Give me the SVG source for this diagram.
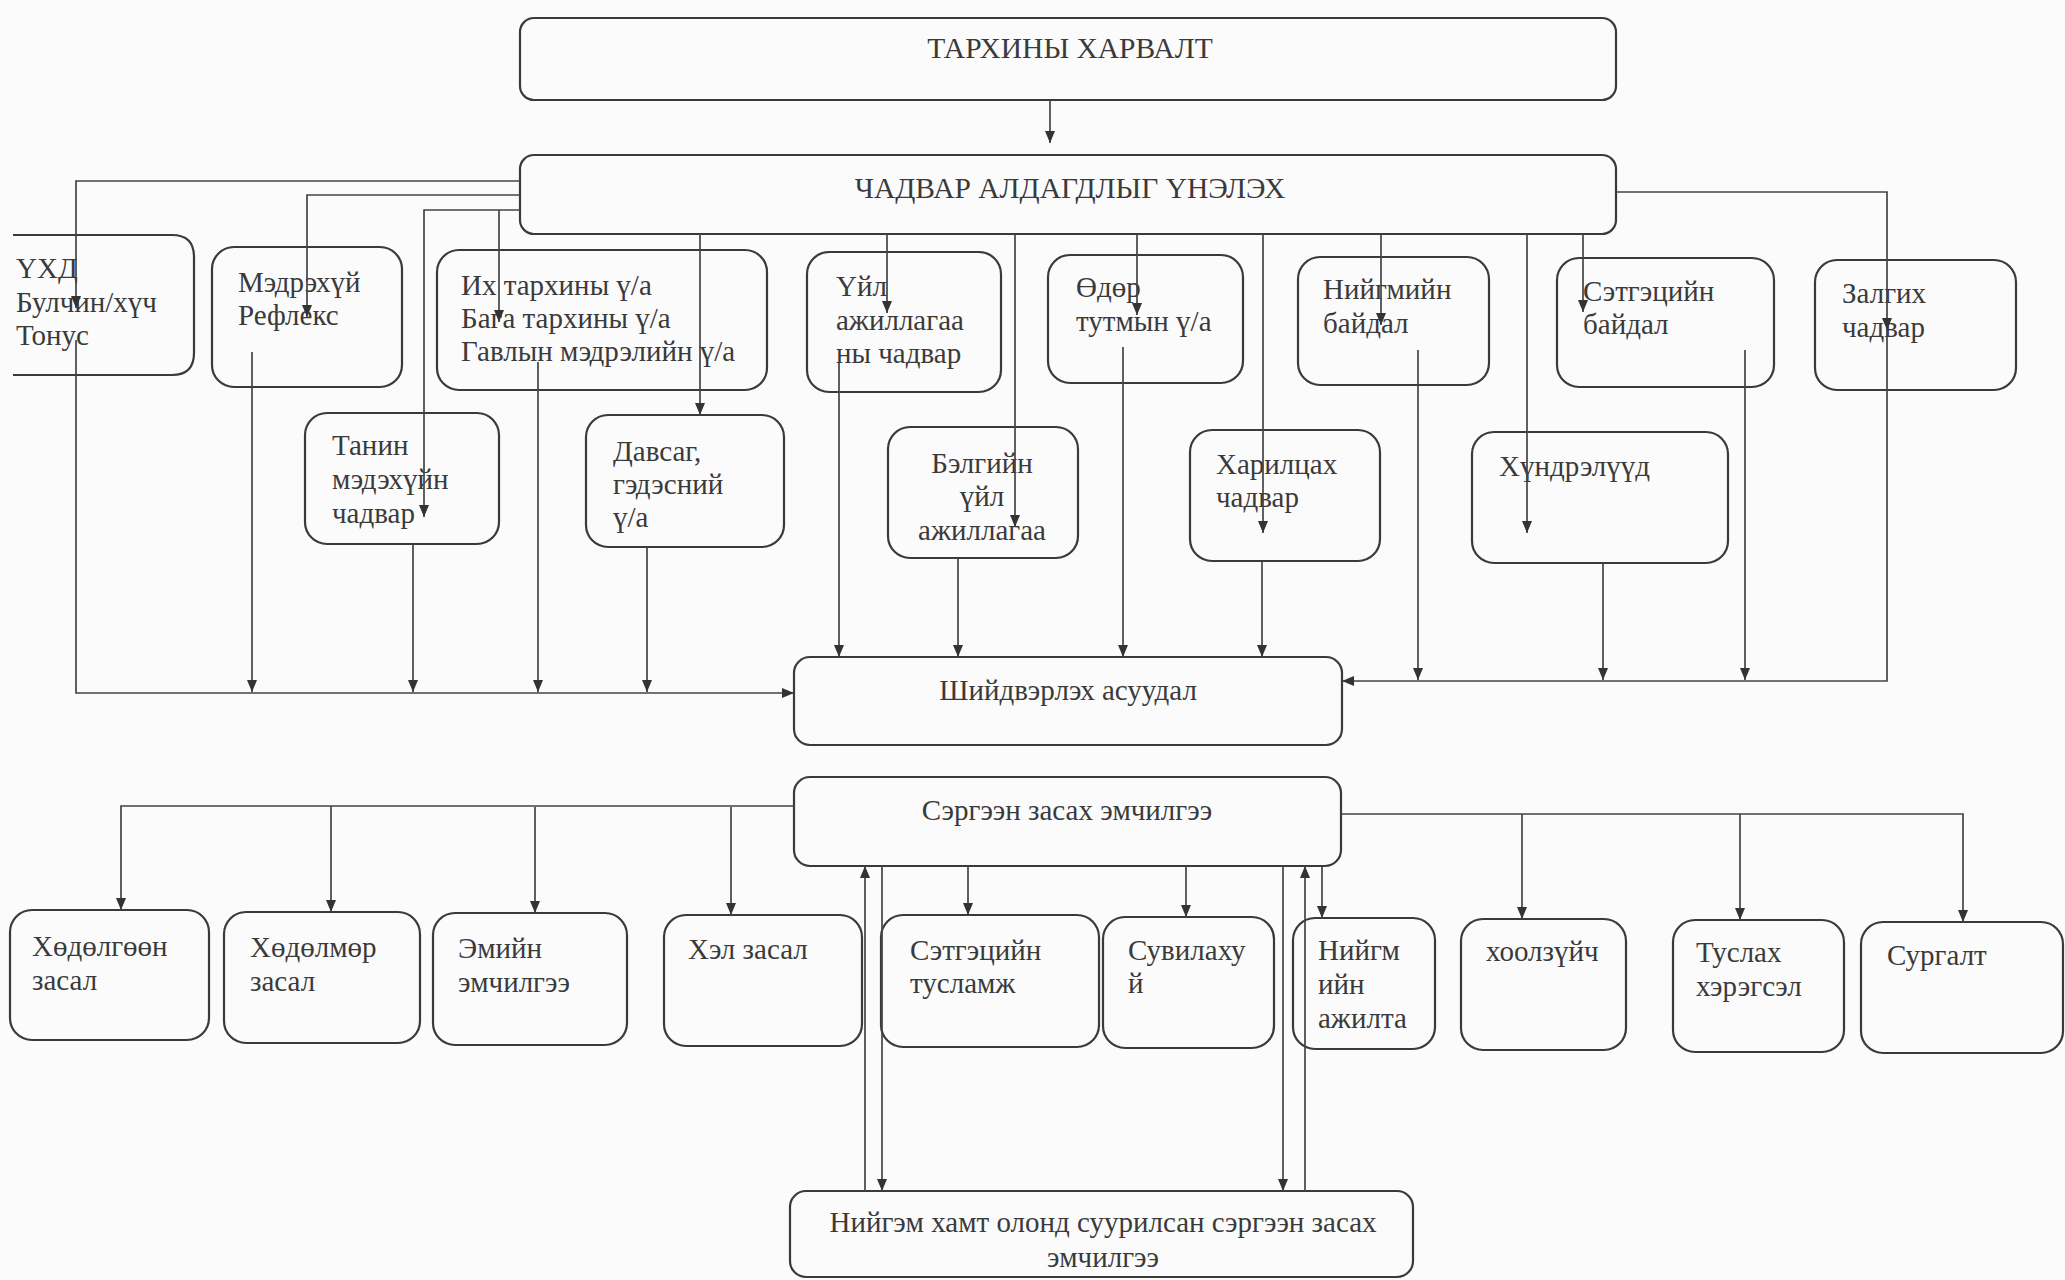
<svg xmlns="http://www.w3.org/2000/svg" width="2065" height="1280" viewBox="0 0 2065 1280">
<style>
.bx{fill:none;stroke:#3a3a3a;stroke-width:2.2}
.t{font-family:"Liberation Serif","Times New Roman",serif;font-size:29px;fill:#3a3a3a}
.tc{font-family:"Liberation Serif","Times New Roman",serif;font-size:29.5px;fill:#3a3a3a;text-anchor:middle}
.mid{text-anchor:middle}
.ln{fill:none;stroke:#444;stroke-width:1.7}
</style>
<defs>
<marker id="ar" viewBox="0 0 12 10" refX="12" refY="5" markerUnits="userSpaceOnUse" markerWidth="12" markerHeight="10" orient="auto">
<path d="M0,0 L12,5 L0,10 z" fill="#333"/>
</marker>
</defs>
<rect x="0" y="0" width="2065" height="1280" fill="#fbfbfc"/>

<g id="n-tarkhi"><rect class="bx" x="520" y="18" width="1096" height="82" rx="14"/><text class="tc" x="1070" y="58">ТАРХИНЫ ХАРВАЛТ</text></g>
<g id="n-chadvar"><rect class="bx" x="520" y="155" width="1096" height="79" rx="14"/><text class="tc" x="1070" y="198">ЧАДВАР АЛДАГДЛЫГ ҮНЭЛЭХ</text></g>

<g id="n-ukhd"><path class="bx" d="M13,235 H172 Q194,235 194,257 V353 Q194,375 172,375 H13"/><text class="t"><tspan x="16" y="278">ҮХД</tspan><tspan x="16" y="312">Булчин/хүч</tspan><tspan x="16" y="345">Тонус</tspan></text></g>
<g id="n-medr"><rect class="bx" x="212" y="247" width="190" height="140" rx="22"/><text class="t"><tspan x="238" y="292">Мэдрэхүй</tspan><tspan x="238" y="325">Рефлекс</tspan></text></g>
<g id="n-ikh"><rect class="bx" x="437" y="250" width="330" height="140" rx="22"/><text class="t"><tspan x="461" y="295">Их тархины ү/а</tspan><tspan x="461" y="328">Бага тархины ү/а</tspan><tspan x="461" y="361">Гавлын мэдрэлийн ү/а</tspan></text></g>
<g id="n-uil"><rect class="bx" x="807" y="252" width="194" height="140" rx="22"/><text class="t"><tspan x="836" y="296">Үйл</tspan><tspan x="836" y="330">ажиллагаа</tspan><tspan x="836" y="363">ны чадвар</tspan></text></g>
<g id="n-odor"><rect class="bx" x="1048" y="255" width="195" height="128" rx="22"/><text class="t"><tspan x="1076" y="297">Өдөр</tspan><tspan x="1076" y="331">тутмын ү/а</tspan></text></g>
<g id="n-niigbai"><rect class="bx" x="1298" y="257" width="191" height="128" rx="22"/><text class="t"><tspan x="1323" y="299">Нийгмийн</tspan><tspan x="1323" y="333">байдал</tspan></text></g>
<g id="n-setgbai"><rect class="bx" x="1557" y="258" width="217" height="129" rx="22"/><text class="t"><tspan x="1583" y="301">Сэтгэцийн</tspan><tspan x="1583" y="334">байдал</tspan></text></g>
<g id="n-zalg"><rect class="bx" x="1815" y="260" width="201" height="130" rx="22"/><text class="t"><tspan x="1842" y="303">Залгих</tspan><tspan x="1842" y="337">чадвар</tspan></text></g>

<g id="n-tanin"><rect class="bx" x="305" y="413" width="194" height="131" rx="22"/><text class="t"><tspan x="332" y="455">Танин</tspan><tspan x="332" y="489">мэдэхүйн</tspan><tspan x="332" y="523">чадвар</tspan></text></g>
<g id="n-davs"><rect class="bx" x="586" y="415" width="198" height="132" rx="22"/><text class="t"><tspan x="613" y="461">Давсаг,</tspan><tspan x="613" y="494">гэдэсний</tspan><tspan x="613" y="527">ү/а</tspan></text></g>
<g id="n-belg"><rect class="bx" x="888" y="427" width="190" height="131" rx="22"/><text class="t mid"><tspan x="982" y="473">Бэлгийн</tspan><tspan x="982" y="506">үйл</tspan><tspan x="982" y="540">ажиллагаа</tspan></text></g>
<g id="n-haril"><rect class="bx" x="1190" y="430" width="190" height="131" rx="22"/><text class="t"><tspan x="1216" y="474">Харилцах</tspan><tspan x="1216" y="507">чадвар</tspan></text></g>
<g id="n-hund"><rect class="bx" x="1472" y="432" width="256" height="131" rx="22"/><text class="t"><tspan x="1499" y="476">Хүндрэлүүд</tspan></text></g>

<g id="n-shiid"><rect class="bx" x="794" y="657" width="548" height="88" rx="16"/><text class="t mid" x="1068" y="700">Шийдвэрлэх асуудал</text></g>
<g id="n-serg"><rect class="bx" x="794" y="777" width="547" height="89" rx="16"/><text class="t mid" x="1067" y="820">Сэргээн засах эмчилгээ</text></g>

<g id="n-hodl"><rect class="bx" x="10" y="910" width="199" height="130" rx="22"/><text class="t"><tspan x="32" y="956">Хөдөлгөөн</tspan><tspan x="32" y="990">засал</tspan></text></g>
<g id="n-hodm"><rect class="bx" x="224" y="912" width="196" height="131" rx="22"/><text class="t"><tspan x="250" y="957">Хөдөлмөр</tspan><tspan x="250" y="991">засал</tspan></text></g>
<g id="n-emiin"><rect class="bx" x="433" y="913" width="194" height="132" rx="22"/><text class="t"><tspan x="458" y="958">Эмийн</tspan><tspan x="458" y="992">эмчилгээ</tspan></text></g>
<g id="n-hel"><rect class="bx" x="664" y="915" width="198" height="131" rx="22"/><text class="t"><tspan x="688" y="959">Хэл засал</tspan></text></g>
<g id="n-setgt"><rect class="bx" x="881" y="915" width="218" height="132" rx="22"/><text class="t"><tspan x="910" y="960">Сэтгэцийн</tspan><tspan x="910" y="993">тусламж</tspan></text></g>
<g id="n-suv"><rect class="bx" x="1103" y="917" width="171" height="131" rx="22"/><text class="t"><tspan x="1128" y="960">Сувилаху</tspan><tspan x="1128" y="993">й</tspan></text></g>
<g id="n-niigm"><rect class="bx" x="1293" y="918" width="142" height="131" rx="22"/><text class="t"><tspan x="1318" y="960">Нийгм</tspan><tspan x="1318" y="994">ийн</tspan><tspan x="1318" y="1028">ажилта</tspan></text></g>
<g id="n-hool"><rect class="bx" x="1461" y="919" width="165" height="131" rx="22"/><text class="t"><tspan x="1486" y="961">хоолзүйч</tspan></text></g>
<g id="n-tusl"><rect class="bx" x="1673" y="920" width="171" height="132" rx="22"/><text class="t"><tspan x="1696" y="962">Туслах</tspan><tspan x="1696" y="996">хэрэгсэл</tspan></text></g>
<g id="n-surg"><rect class="bx" x="1861" y="922" width="202" height="131" rx="22"/><text class="t"><tspan x="1887" y="965">Сургалт</tspan></text></g>

<g id="n-niigem"><rect class="bx" x="790" y="1191" width="623" height="86" rx="16"/><text class="t mid"><tspan x="1103" y="1232">Нийгэм хамт олонд суурилсан сэргээн засах</tspan><tspan x="1103" y="1267">эмчилгээ</tspan></text></g>

<g id="connectors" class="ln">
<path d="M1050,100 V143" marker-end="url(#ar)"/>
<path d="M520,181 H76 V308" marker-end="url(#ar)"/>
<path d="M520,195 H307 V317" marker-end="url(#ar)"/>
<path d="M520,210 H424 V517" marker-end="url(#ar)"/>
<path d="M499,210 V322" marker-end="url(#ar)"/>
<path d="M700,234 V415" marker-end="url(#ar)"/>
<path d="M887,234 V313" marker-end="url(#ar)"/>
<path d="M1015,234 V527" marker-end="url(#ar)"/>
<path d="M1137,234 V315" marker-end="url(#ar)"/>
<path d="M1263,234 V533" marker-end="url(#ar)"/>
<path d="M1381,234 V325" marker-end="url(#ar)"/>
<path d="M1527,234 V533" marker-end="url(#ar)"/>
<path d="M1583,234 V312" marker-end="url(#ar)"/>
<path d="M1616,192 H1887 V330" marker-end="url(#ar)"/>

<path d="M76,340 V693 H794" marker-end="url(#ar)"/>
<path d="M252,352 V692" marker-end="url(#ar)"/>
<path d="M413,545 V692" marker-end="url(#ar)"/>
<path d="M538,362 V692" marker-end="url(#ar)"/>
<path d="M647,547 V692" marker-end="url(#ar)"/>
<path d="M839,363 V657" marker-end="url(#ar)"/>
<path d="M958,558 V657" marker-end="url(#ar)"/>
<path d="M1123,347 V657" marker-end="url(#ar)"/>
<path d="M1262,561 V657" marker-end="url(#ar)"/>
<path d="M1887,330 V681 H1342" marker-end="url(#ar)"/>
<path d="M1418,350 V680" marker-end="url(#ar)"/>
<path d="M1603,563 V680" marker-end="url(#ar)"/>
<path d="M1745,350 V680" marker-end="url(#ar)"/>

<path d="M794,806 H121 V910" marker-end="url(#ar)"/>
<path d="M331,806 V912" marker-end="url(#ar)"/>
<path d="M535,807 V913" marker-end="url(#ar)"/>
<path d="M731,807 V915" marker-end="url(#ar)"/>
<path d="M1341,814 H1963 V922" marker-end="url(#ar)"/>
<path d="M1522,814 V919" marker-end="url(#ar)"/>
<path d="M1740,814 V920" marker-end="url(#ar)"/>
<path d="M968,866 V915" marker-end="url(#ar)"/>
<path d="M1186,866 V917" marker-end="url(#ar)"/>
<path d="M1322,866 V918" marker-end="url(#ar)"/>
<path d="M865,1191 V866" marker-end="url(#ar)"/>
<path d="M882,866 V1191" marker-end="url(#ar)"/>
<path d="M1283,866 V1191" marker-end="url(#ar)"/>
<path d="M1305,1191 V866" marker-end="url(#ar)"/>
</g>
</svg>
